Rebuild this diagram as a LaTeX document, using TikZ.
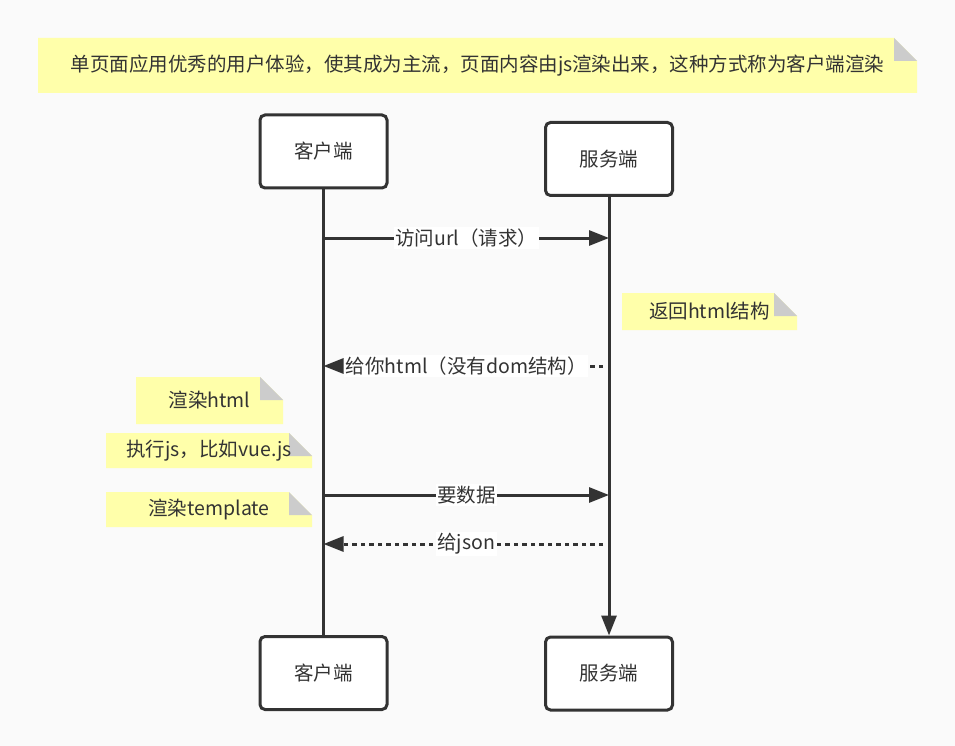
\documentclass[tikz,border=0pt]{standalone}
\usepackage{fontspec}
\setmainfont{Noto Sans CJK SC}
\usetikzlibrary{arrows.meta}
\definecolor{bgc}{HTML}{FAFAFA}
\definecolor{ink}{HTML}{333333}
\definecolor{noteY}{HTML}{FFFFAA}
\definecolor{foldG}{HTML}{CCCCCC}
\newcommand\lblfont{\fontsize{19.5pt}{23pt}\selectfont}
\def\foldsz{23pt}
\begin{document}
\begin{tikzpicture}[x=1pt,y=-1pt,
  actor/.style={draw=ink, line width=3pt, rounded corners=5pt, fill=white,
    minimum width=127pt, minimum height=73pt, inner sep=0pt, font=\lblfont, text=ink},
  note/.style={inner sep=0pt, font=\lblfont, text=ink,
    path picture={
      \fill[noteY] (path picture bounding box.south west) -- (path picture bounding box.north west)
        -- ([xshift=-\foldsz]path picture bounding box.north east)
        -- ([yshift=-\foldsz]path picture bounding box.north east)
        -- (path picture bounding box.south east) -- cycle;
      \fill[foldG] ([xshift=-\foldsz]path picture bounding box.north east)
        -- ([xshift=-\foldsz,yshift=-\foldsz]path picture bounding box.north east)
        -- ([yshift=-\foldsz]path picture bounding box.north east) -- cycle;
    }},
  life/.style={draw=ink, line width=3pt},
  tip/.style={-{Triangle[length=20pt,width=15pt]}},
  msg/.style={draw=ink, line width=3pt, tip},
  reply/.style={msg, dash pattern=on 4.5pt off 4pt, shorten <=6pt},
  lbl/.style={fill=white, inner sep=1.5pt, font=\lblfont, text=ink}
]
\fill[bgc] (0,0) rectangle (955,746);
\useasboundingbox (0,0) rectangle (955,746);

% notes
\node[note, minimum width=879pt, minimum height=55pt] (n0) at (477.5,65.5)
  {单页面应用优秀的用户体验，使其成为主流，页面内容由js渲染出来，这种方式称为客户端渲染};
\node[note, minimum width=175pt, minimum height=37pt] (n1) at (709.5,311.5) {返回html结构};
\node[note, minimum width=147pt, minimum height=47pt] (n2) at (209.5,400.5) {渲染html};
\node[note, minimum width=206pt, minimum height=35pt] (n3) at (209,450.5) {执行js，比如vue.js};
\node[note, minimum width=206pt, minimum height=35pt] (n4) at (209,509.5) {渲染template};

% actors
\node[actor] (c1) at (323.5,151.5) {客户端};
\node[actor] (s1) at (609,159) {服务端};
\node[actor] (c2) at (323.5,673) {客户端};
\node[actor] (s2) at (609,673.5) {服务端};

% lifelines
\draw[life] (c1.south) -- (c2.north);
\draw[life, tip] (s1.south) -- (s2.north);

% message points
\coordinate (a1) at (323.5,238);
\coordinate (b1) at (609,238);
\coordinate (a2) at (323.5,366);
\coordinate (b2) at (609,366);
\coordinate (a3) at (323.5,495);
\coordinate (b3) at (609,495);
\coordinate (a4) at (323.5,544);
\coordinate (b4) at (609,544);

\draw[msg] (a1) -- node[lbl] (l1) {访问url（请求）} (b1);
\draw[reply] (b2) -- node[lbl] (l2) {给你html（没有dom结构）} (a2);
\draw[msg] (a3) -- node[lbl] (l3) {要数据} (b3);
\draw[reply] (b4) -- node[lbl] (l4) {给json} (a4);
\end{tikzpicture}
\end{document}
